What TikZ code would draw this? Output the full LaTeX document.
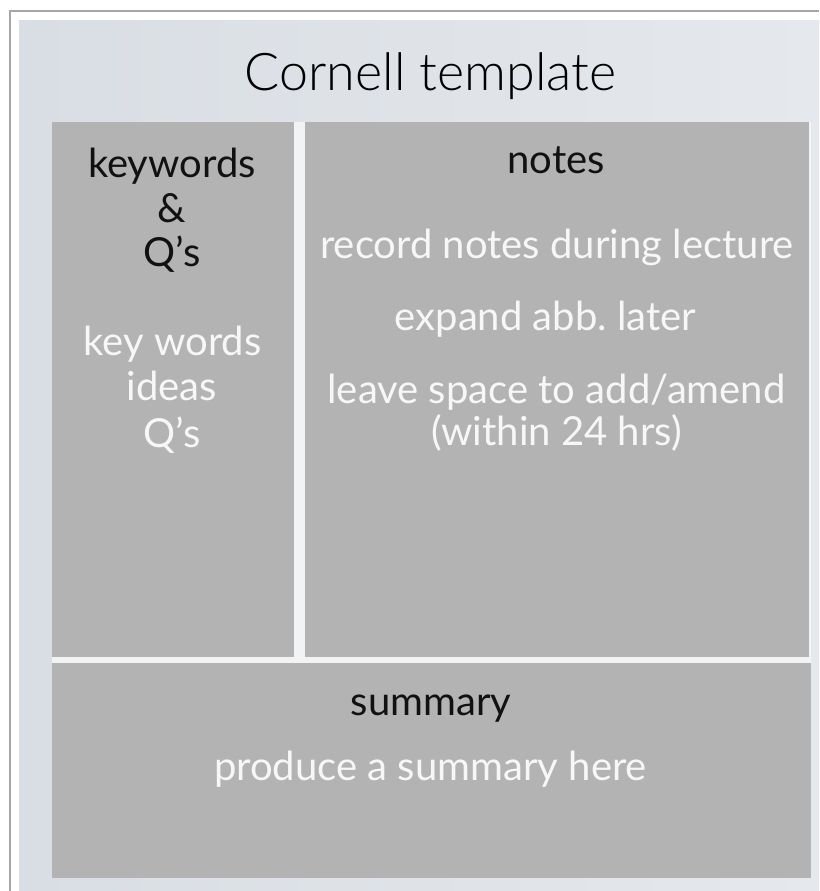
\documentclass[tikz,border=0pt]{standalone}
\usepackage{fontspec}
\setmainfont{Lato}
\newfontfamily\titlefont{Lato Light}
\frenchspacing
\definecolor{bordergray}{HTML}{A6A6A6}
\definecolor{panelL}{HTML}{D9DEE4}
\definecolor{panelR}{HTML}{E5E8EC}
\definecolor{gapcol}{HTML}{F2F3F5}
\definecolor{boxgray}{HTML}{B3B3B3}
\definecolor{darktext}{HTML}{111111}
\definecolor{lighttext}{HTML}{F7F7F7}
\begin{document}
\begin{tikzpicture}[x=1pt,y=-1pt,
  panelbox/.style={fill=boxgray, draw=none, inner sep=0pt, anchor=north west},
  headtext/.style={anchor=base, inner sep=0pt, text=darktext, font=\fontsize{40}{48}\selectfont},
  bodytext/.style={anchor=base, inner sep=0pt, text=lighttext, font=\fontsize{40}{48}\selectfont},
  titletext/.style={anchor=base, inner sep=0pt, text=black, font=\titlefont\fontsize{52}{60}\selectfont}]
\useasboundingbox (0,0) rectangle (819,891);
\fill[white] (0,0) rectangle (819,891);
\draw[bordergray, line width=1.5pt] (10,891) -- (10,11) -- (819,11);
\shade[left color=panelL, right color=panelR] (19,21) rectangle (819,891);
\fill[gapcol] (52,122) rectangle (811,878);
% boxes
\node[panelbox, minimum width=242pt, minimum height=535pt] (kwbox) at (52,122) {};
\node[panelbox, minimum width=504pt, minimum height=535pt] (notesbox) at (305,122) {};
\node[panelbox, minimum width=759pt, minimum height=215pt] (sumbox) at (52,663) {};
% title
\node[titletext] (title) at (430.5,90) {Cornell template};
% keywords column
\node[headtext] (kw1) at (172,177) {keywords};
\node[headtext] (kw2) at (172,222) {\&};
\node[headtext] (kw3) at (172,266) {Q’s};
\node[bodytext] (kb1) at (172.5,355) {key words};
\node[bodytext] (kb2) at (172,400) {ideas};
\node[bodytext] (kb3) at (172,447) {Q’s};
% notes column
\node[headtext] (nh) at (556,173) {notes};
\node[bodytext] (nb1) at (557,258) {record notes during lecture};
\node[bodytext] (nb2) at (545.5,330) {expand abb.\ later};
\node[bodytext] (nb3) at (556.5,403) {leave space to add/amend};
\node[bodytext] (nb4) at (556.5,445) {(within 24 hrs)};
% summary
\node[headtext] (sh) at (431,715) {summary};
\node[bodytext] (sb) at (430.5,780) {produce a summary here};
\end{tikzpicture}
\end{document}
